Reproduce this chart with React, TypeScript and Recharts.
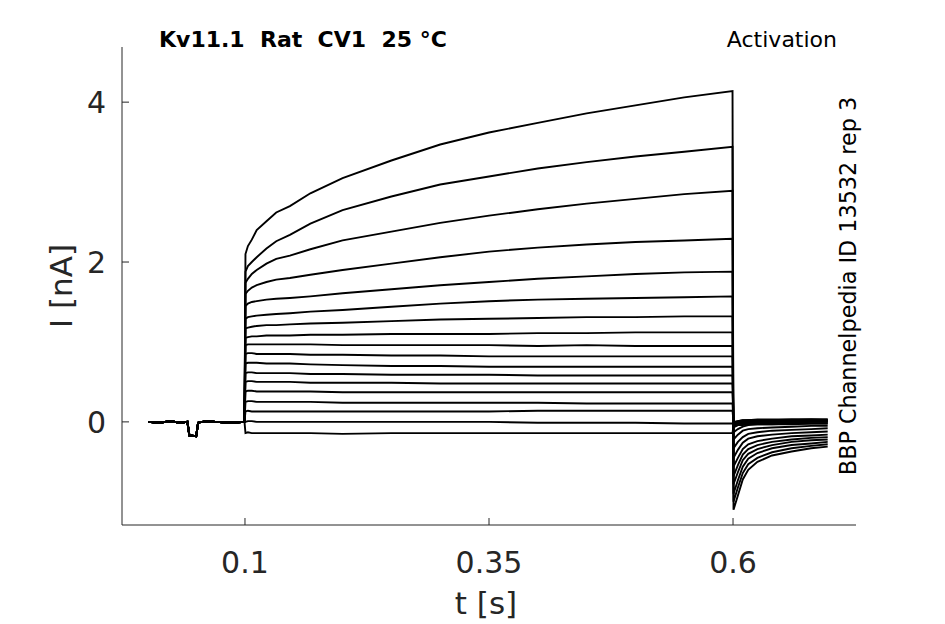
import React from "react";
import { LineChart, Line, XAxis, YAxis } from "recharts";

// time samples (s)
const TIME_PRE = [0.001, 0.012, 0.024, 0.033, 0.041, 0.043, 0.05, 0.052, 0.06, 0.07, 0.085, 0.0995];
const TIME_PULSE = [0.1005, 0.103, 0.107, 0.112, 0.122, 0.132, 0.146, 0.167, 0.2, 0.25, 0.3, 0.35, 0.4, 0.45, 0.5, 0.55, 0.5995];
const TIME_TAIL = [0.6005, 0.605, 0.61, 0.6156, 0.625, 0.64, 0.66, 0.68, 0.697];

// holding current before the step (nA), shared by all sweeps
const BASELINE = [0.0, -0.01, 0.01, -0.01, 0.0, -0.17, -0.18, -0.01, 0.01, 0.0, -0.01, 0.0];

// current during the step (nA), one row per sweep
const PULSE_NA = [
  [2.1, 2.2, 2.28, 2.4, 2.51, 2.62, 2.7, 2.86, 3.05, 3.27, 3.47, 3.62, 3.74, 3.86, 3.96, 4.06, 4.14],
  [1.88, 1.95, 2.0, 2.06, 2.17, 2.26, 2.34, 2.48, 2.65, 2.82, 2.97, 3.07, 3.17, 3.25, 3.32, 3.38, 3.44],
  [1.74, 1.79, 1.85, 1.9, 1.98, 2.04, 2.08, 2.16, 2.27, 2.38, 2.49, 2.58, 2.66, 2.73, 2.79, 2.85, 2.89],
  [1.6, 1.64, 1.68, 1.71, 1.75, 1.78, 1.8, 1.84, 1.9, 1.98, 2.06, 2.13, 2.18, 2.22, 2.25, 2.27, 2.29],
  [1.45, 1.48, 1.5, 1.51, 1.53, 1.54, 1.55, 1.57, 1.61, 1.66, 1.71, 1.75, 1.79, 1.82, 1.85, 1.87, 1.88],
  [1.29, 1.31, 1.32, 1.33, 1.34, 1.35, 1.36, 1.38, 1.4, 1.44, 1.48, 1.51, 1.53, 1.54, 1.55, 1.56, 1.57],
  [1.17, 1.18, 1.19, 1.2, 1.21, 1.21, 1.22, 1.23, 1.24, 1.26, 1.28, 1.29, 1.3, 1.31, 1.31, 1.32, 1.32],
  [1.05, 1.06, 1.07, 1.07, 1.08, 1.08, 1.08, 1.09, 1.09, 1.1, 1.1, 1.1, 1.11, 1.11, 1.12, 1.12, 1.12],
  [0.96, 0.97, 0.97, 0.97, 0.97, 0.97, 0.97, 0.97, 0.96, 0.96, 0.96, 0.96, 0.95, 0.96, 0.95, 0.95, 0.95],
  [0.85, 0.86, 0.86, 0.85, 0.85, 0.85, 0.85, 0.84, 0.84, 0.83, 0.83, 0.82, 0.82, 0.82, 0.82, 0.82, 0.82],
  [0.73, 0.74, 0.74, 0.74, 0.73, 0.73, 0.73, 0.72, 0.71, 0.7, 0.7, 0.69, 0.69, 0.69, 0.69, 0.69, 0.69],
  [0.61, 0.62, 0.62, 0.61, 0.61, 0.61, 0.61, 0.6, 0.6, 0.59, 0.59, 0.59, 0.58, 0.58, 0.58, 0.58, 0.58],
  [0.5, 0.51, 0.51, 0.5, 0.5, 0.5, 0.5, 0.49, 0.49, 0.49, 0.48, 0.48, 0.48, 0.48, 0.48, 0.48, 0.48],
  [0.38, 0.39, 0.39, 0.38, 0.38, 0.38, 0.38, 0.38, 0.37, 0.37, 0.37, 0.37, 0.37, 0.37, 0.37, 0.37, 0.37],
  [0.25, 0.26, 0.26, 0.25, 0.25, 0.25, 0.25, 0.25, 0.24, 0.24, 0.24, 0.24, 0.24, 0.23, 0.23, 0.23, 0.23],
  [0.13, 0.14, 0.13, 0.13, 0.13, 0.13, 0.13, 0.13, 0.13, 0.13, 0.13, 0.13, 0.14, 0.14, 0.14, 0.14, 0.14],
  [0.0, 0.01, 0.01, 0.0, 0.0, 0.0, 0.0, 0.0, 0.0, 0.0, 0.0, 0.0, -0.01, -0.01, -0.01, -0.02, -0.02],
  [-0.14, -0.13, -0.14, -0.14, -0.14, -0.14, -0.14, -0.14, -0.15, -0.14, -0.14, -0.14, -0.14, -0.14, -0.14, -0.14, -0.14],
];

// tail current after the step (nA), one row per sweep
const TAIL_NA = [
  [-1.1, -0.92, -0.72, -0.6, -0.5, -0.42, -0.37, -0.33, -0.31],
  [-1.0, -0.82, -0.64, -0.53, -0.45, -0.38, -0.33, -0.3, -0.28],
  [-0.9, -0.73, -0.56, -0.46, -0.39, -0.33, -0.29, -0.27, -0.25],
  [-0.78, -0.63, -0.48, -0.4, -0.34, -0.29, -0.25, -0.23, -0.22],
  [-0.68, -0.54, -0.41, -0.34, -0.29, -0.25, -0.22, -0.2, -0.19],
  [-0.56, -0.45, -0.34, -0.28, -0.24, -0.21, -0.18, -0.17, -0.16],
  [-0.45, -0.35, -0.26, -0.21, -0.18, -0.16, -0.14, -0.13, -0.12],
  [-0.33, -0.25, -0.19, -0.15, -0.13, -0.11, -0.1, -0.09, -0.08],
  [-0.22, -0.16, -0.11, -0.09, -0.08, -0.07, -0.06, -0.05, -0.05],
  [-0.13, -0.09, -0.06, -0.04, -0.03, -0.03, -0.02, -0.02, -0.02],
  [-0.07, -0.04, -0.03, -0.02, -0.01, -0.01, 0.0, 0.0, 0.0],
  [-0.04, -0.02, -0.01, 0.0, 0.01, 0.01, 0.01, 0.01, 0.01],
  [-0.03, -0.01, 0.0, 0.01, 0.01, 0.02, 0.02, 0.02, 0.02],
  [-0.02, 0.0, 0.01, 0.02, 0.02, 0.02, 0.02, 0.03, 0.03],
  [-0.01, 0.01, 0.02, 0.02, 0.03, 0.03, 0.03, 0.03, 0.03],
  [0.0, 0.01, 0.02, 0.02, 0.02, 0.02, 0.03, 0.03, 0.02],
  [-0.03, -0.02, -0.02, -0.01, -0.01, -0.01, -0.01, 0.0, 0.0],
  [-0.05, -0.04, -0.04, -0.03, -0.03, -0.03, -0.03, -0.02, -0.02],
];

const X_TICKS = [0.1, 0.35, 0.6];
const Y_TICKS = [0, 2, 4];
const X_TICK_LABELS = ["0.1", "0.35", "0.6"];
const Y_TICK_LABELS = ["0", "2", "4"];

const TEXT_COLOR = "#262626";
const FONT = "'DejaVu Sans', sans-serif";

const rows: Record<string, number>[] = [];
TIME_PRE.forEach((t, i) => {
  const r: Record<string, number> = { t };
  PULSE_NA.forEach((_, k) => (r["s" + k] = BASELINE[i]));
  rows.push(r);
});
TIME_PULSE.forEach((t, i) => {
  const r: Record<string, number> = { t };
  PULSE_NA.forEach((sweep, k) => (r["s" + k] = sweep[i]));
  rows.push(r);
});
TIME_TAIL.forEach((t, i) => {
  const r: Record<string, number> = { t };
  TAIL_NA.forEach((sweep, k) => (r["s" + k] = sweep[i]));
  rows.push(r);
});

const XTick = (props: any) => {
  const { x, y, payload } = props;
  const idx = X_TICKS.indexOf(payload.value);
  return (
    <g>
      <line x1={x} y1={y} x2={x} y2={y - 7} stroke={TEXT_COLOR} strokeWidth={1} />
      <text x={x} y={y + 48} textAnchor="middle" fill={TEXT_COLOR} fontSize={30} fontFamily={FONT}>
        {idx >= 0 ? X_TICK_LABELS[idx] : payload.value}
      </text>
    </g>
  );
};

const YTick = (props: any) => {
  const { x, y, payload } = props;
  const idx = Y_TICKS.indexOf(payload.value);
  return (
    <g>
      <line x1={x} y1={y} x2={x + 7} y2={y} stroke={TEXT_COLOR} strokeWidth={1} />
      <text x={x - 16} y={y + 11} textAnchor="end" fill={TEXT_COLOR} fontSize={30} fontFamily={FONT}>
        {idx >= 0 ? Y_TICK_LABELS[idx] : payload.value}
      </text>
    </g>
  );
};

export default function App() {
  return (
    <div style={{ position: "absolute", left: 0, top: 0, width: 945, height: 624, background: "#fff" }}>
      <LineChart width={945} height={624} data={rows} margin={{ top: 47, right: 89, left: 0, bottom: 0 }}>
        <XAxis
          type="number"
          dataKey="t"
          domain={[-0.026, 0.726]}
          ticks={X_TICKS}
          allowDataOverflow
          height={99}
          tickSize={0}
          tickMargin={0}
          tickLine={false}
          tick={<XTick />}
          axisLine={{ stroke: TEXT_COLOR, strokeWidth: 1 }}
        />
        <YAxis
          type="number"
          domain={[-1.29, 4.69]}
          ticks={Y_TICKS}
          allowDataOverflow
          width={122}
          tickSize={0}
          tickMargin={0}
          tickLine={false}
          tick={<YTick />}
          axisLine={{ stroke: TEXT_COLOR, strokeWidth: 1 }}
        />
        {PULSE_NA.map((_, k) => (
          <Line
            key={k}
            dataKey={"s" + k}
            type="linear"
            stroke="#000"
            strokeWidth={1.9}
            dot={false}
            activeDot={false}
            isAnimationActive={false}
          />
        ))}
      </LineChart>
      <svg width={945} height={624} style={{ position: "absolute", left: 0, top: 0, pointerEvents: "none" }}>
        <text x={159} y={47} fontFamily={FONT} fontWeight="bold" fontSize={22} fill="#000" style={{ whiteSpace: "pre" }}>
          {"Kv11.1  Rat  CV1  25 °C"}
        </text>
        <text x={837} y={47} textAnchor="end" fontFamily={FONT} fontSize={22} fill="#000">
          Activation
        </text>
        <text
          x={856}
          y={286}
          textAnchor="middle"
          fontFamily={FONT}
          fontSize={22.3}
          fill="#000"
          transform="rotate(-90 856 286)"
        >
          BBP Channelpedia ID 13532 rep 3
        </text>
        <text x={486} y={614} textAnchor="middle" fontFamily={FONT} fontSize={31} fill={TEXT_COLOR}>
          t [s]
        </text>
        <text
          x={72}
          y={286}
          textAnchor="middle"
          fontFamily={FONT}
          fontSize={31}
          fill={TEXT_COLOR}
          transform="rotate(-90 72 286)"
        >
          I [nA]
        </text>
      </svg>
    </div>
  );
}
